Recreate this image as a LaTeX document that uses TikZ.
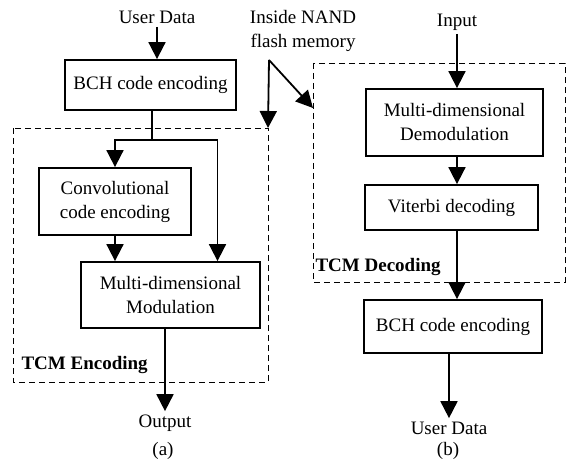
\documentclass[tikz,border=0pt]{standalone}
\usepackage{fontspec}
\setmainfont{Liberation Serif}
\usetikzlibrary{arrows.meta,positioning,calc}

\begin{document}
\begin{tikzpicture}[x=1pt,y=-1pt,
  every node/.style={font=\fontsize{19}{24}\selectfont},
  blk/.style={draw,line width=1.8pt,align=center,inner sep=0pt},
  tcm/.style={draw,line width=0.9pt,dash pattern=on 6pt off 4pt},
  flow/.style={line width=1.8pt,-{Triangle[width=17pt 0,length=17pt 0]}}]
\useasboundingbox (0,0) rectangle (568,468);
% (a) encoder
\node (userA) at (157,17) {User Data};
\node[blk,minimum width=171pt,minimum height=50pt] (bchA) at (150.5,85) {BCH code encoding};
\node[blk,minimum width=152pt,minimum height=67pt] (conv) at (115,201.5) {Convolutional\\code encoding};
\node[blk,minimum width=179pt,minimum height=66pt] (mod) at (170.5,295) {Multi-dimensional\\Modulation};
\node (out) at (165,423) {Output};
\node (capA) at (163,451) {(a)};
\draw[tcm] (13,128) rectangle (268,382);
\node[anchor=west] (tcmA) at (18,365) {\textbf{TCM Encoding}};
\coordinate (split) at (152,140);
\coordinate (modin) at ($(mod.north west)!0.76!(mod.north east)$);
\draw[flow] (userA) -- (userA |- bchA.north);
\draw[line width=1.8pt] (bchA.south -| split) -- (split);
\draw[flow] (split) -| (conv.north);
\draw[flow] (split) -| (modin);
\draw[flow] (conv) -- (conv |- mod.north);
\draw[flow] (mod.south -| out) -- (out.north);
% flash memory pointer
\node[align=center] (nand) at (303,31) {Inside NAND\\flash memory};
\coordinate (peak) at (269,60);
\draw[flow] (peak) -- (268,128);
\draw[flow] (peak) -- (313,108);
% (b) decoder
\node (input) at (457,22) {Input};
\node[blk,minimum width=177pt,minimum height=67pt] (demod) at (454.5,122.5) {Multi-dimensional\\Demodulation};
\node[blk,minimum width=173pt,minimum height=45pt] (vit) at (451.5,207.5) {Viterbi decoding};
\node[blk,minimum width=178pt,minimum height=53pt] (bchB) at (453,326.5) {BCH code encoding};
\node (userB) at (449,428) {User Data};
\node (capB) at (448,451) {(b)};
\draw[tcm] (313,63) rectangle (565,282);
\node[anchor=west] (tcmB) at (312,267) {\textbf{TCM Decoding}};
\draw[flow] (input) -- (input |- demod.north);
\draw[flow] (demod.south -| input) -- (vit.north -| input);
\draw[flow] (vit.south -| input) -- (bchB.north -| input);
\draw[flow] (bchB.south -| userB) -- (userB.north);
\end{tikzpicture}
\end{document}
